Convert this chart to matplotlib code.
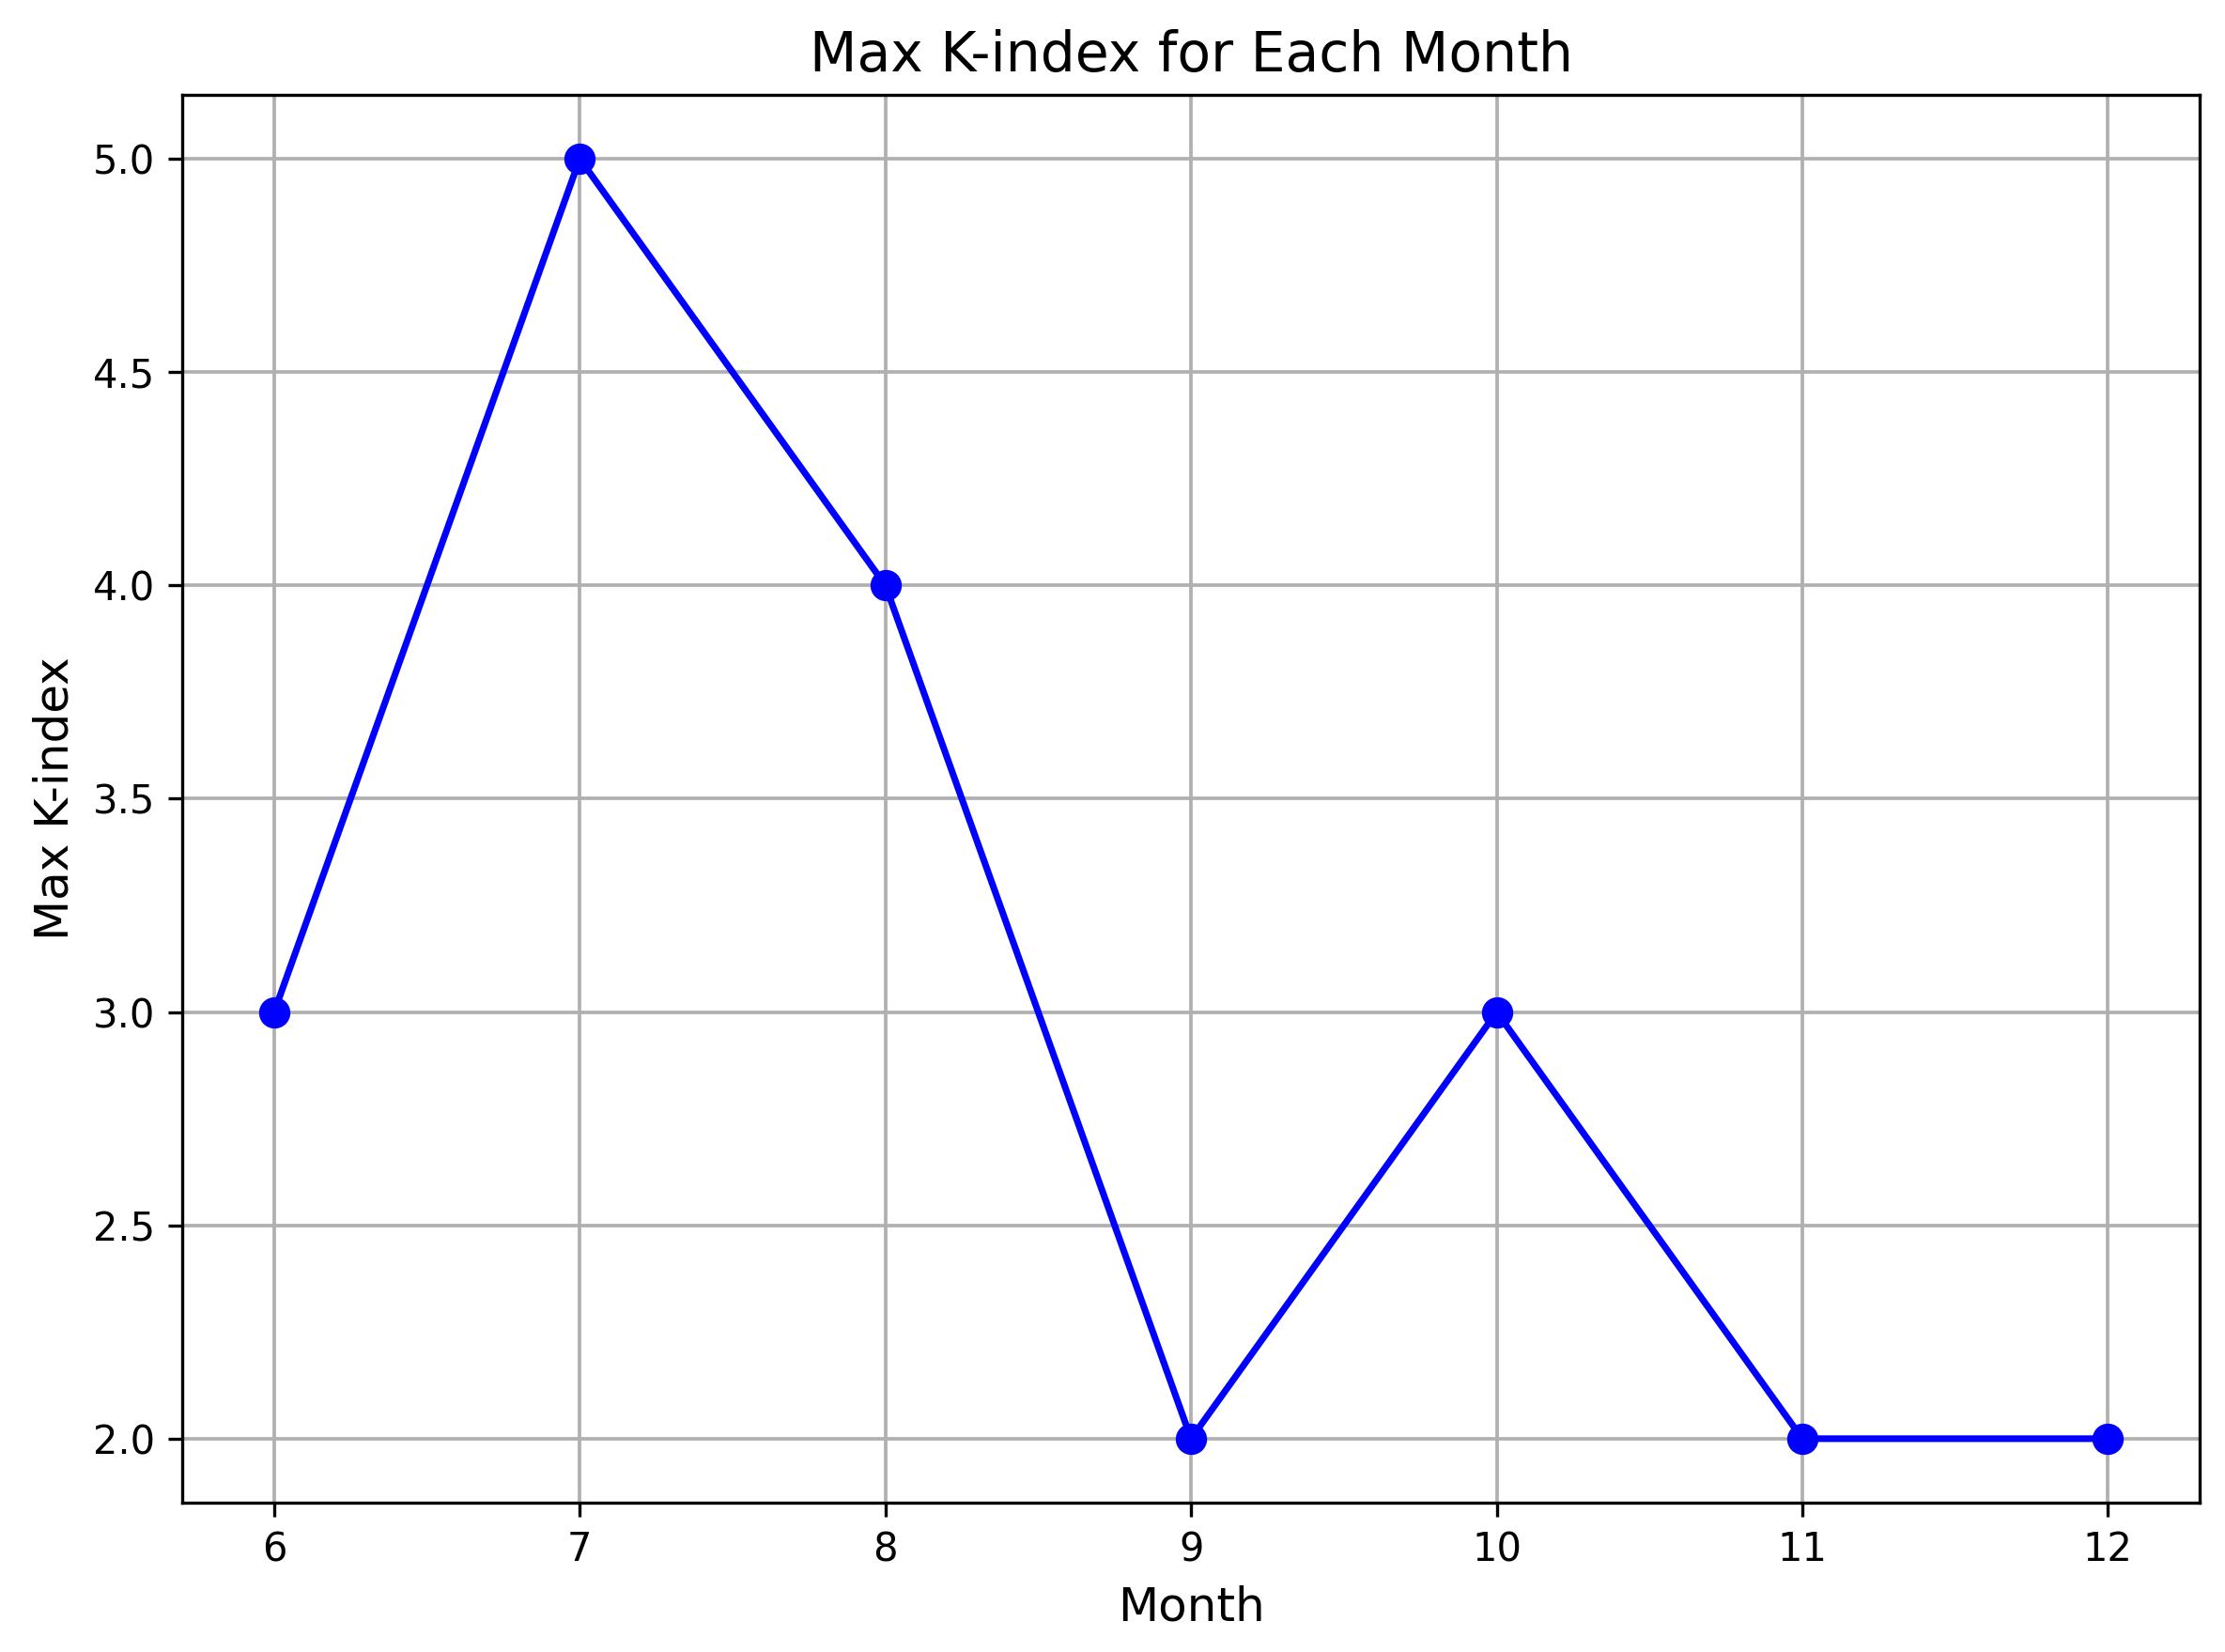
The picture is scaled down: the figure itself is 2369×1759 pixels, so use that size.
import matplotlib
matplotlib.use("Agg")
import matplotlib.pyplot as plt

# Monthly max K-index values
months = [6, 7, 8, 9, 10, 11, 12]
max_k = [3, 5, 4, 2, 3, 2, 2]

fig = plt.figure(figsize=(2369 / 300, 1759 / 300), dpi=300)
ax = fig.add_axes([0.082, 0.0904, 0.9066, 0.8522])

ax.plot(months, max_k, marker='o', color='blue', linestyle='-',
        linewidth=1.7, markersize=7)

ax.set_title('Max K-index for Each Month', fontsize=14)
ax.set_xlabel('Month', fontsize=12)
ax.set_ylabel('Max K-index', fontsize=12)
ax.grid(True, linewidth=0.9)

fig.savefig('out.png', dpi=300)
